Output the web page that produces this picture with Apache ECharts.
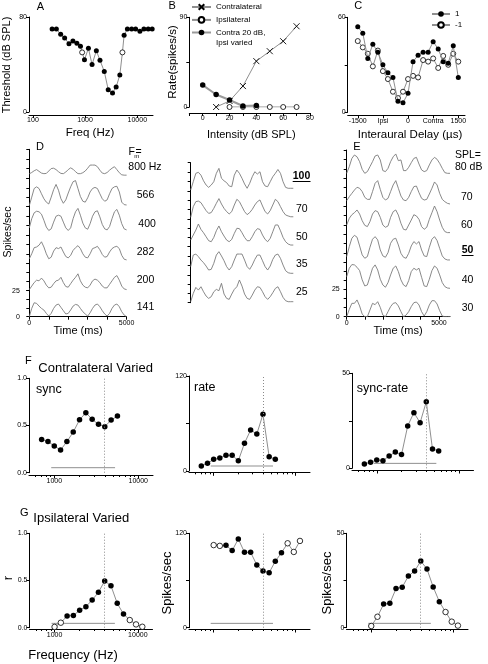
<!DOCTYPE html>
<html><head><meta charset="utf-8">
<script src="https://cdn.jsdelivr.net/npm/echarts@6/dist/echarts.min.js"></script>
<style>html,body{margin:0;padding:0;background:#fff}#c{width:488px;height:664px}</style>
</head><body><div id="c"></div>
<script>
// ---------------- DATA ----------------
// Panel A: threshold tuning curve
const aFreq   = [233,281,340,405,490,584,695,815,877,971,1157,1358,1641,1927,2328,2772,3350,3933,4623,5190,5588,6460,7800,9290,11220,13390,16180,19280];
const aThresh = [70,70,65.4,62.3,57.5,59.8,58,55.3,50.2,44,53.6,40,51.6,43.5,34.2,18.8,16,21,31.2,50.2,64.6,70,70,70,68,70,70,70];
const aOpen   = [0,0,0,0,0,0,0,0,1,0,0,0,0,0,0,0,0,0,0,1,0,0,0,0,0,0,0,0];
const aFreqTicks = [100,1000,10000];
// Panel B: rate vs intensity
const bInt    = [0,10,20,30,40,50,60,70];
const bContra = [null,0,6,21,46,56,66,81];
const bIpsi   = [null,null,0,0,0,0,0,0];
const bBoth   = [22,12.5,7,1,1.5,null,null,null];
// Panel C: interaural delay
const cDelay = [-1500,-1350,-1200,-1050,-900,-750,-600,-450,-300,-150,0,150,300,450,600,750,900,1050,1200,1350,1500];
const cPos   = [54,50,34,43,38,30,25,22,7,6,12,32,36,38,38,44.6,40,32,31,42,22];
const cNeg   = [45,41,37,29,39,26,21,13,9,13,21,23,22,33,32,34,28,35.6,30,37,32];
// Panels D / middle / E: PSTH traces (spikes/sec)
const tD = [0,125,250,375,500,625,750,875,1000,1125,1250,1375,1500,1625,1750,1875,2000,2125,2250,2375,2500,2625,2750,2875,3000,3125,3250,3375,3500,3625,3750,3875,4000,4125,4250,4375,4500,4625,4750,4875,5000];
const tE = [0,140,280,420,560,700,840,980,1120,1260,1400,1540,1680,1820,1960,2100,2240,2380,2520,2660,2800,2940,3080,3220,3360,3500,3640,3780,3920,4060,4200,4340,4480,4620,4760,4900,5040,5180,5320,5460,5600];
const d800 = [3.9,5,6.5,7.5,6,4.5,4,4.2,6.3,8.4,8.7,7.5,5.7,4.2,4,5.4,7.5,9,7.8,5.7,4,4,4.8,6.3,8.7,11.4,11.4,11.4,10,7,4.5,4,5,7,8.7,10,7.5,4.8,3,2.7,2.7];
const d566 = [1,8.4,16,17.5,16,11.4,7,4,2.4,8.4,15,19.6,14.5,7,3,6,12,17.5,22,23,16,9,4.8,4,7.8,13,16,17,16,11.4,7,4.8,6,11.4,16,17.5,18,13,4,1.8,1.5];
const d400 = [6.3,14.4,19.6,21,20.5,18.4,13,7,4,5.4,11.4,16.6,17.5,16.6,11.4,6.3,4,6.3,14.4,20.5,23.5,17.5,10.5,6.3,5.1,10,16.6,20.5,21.4,16,9.3,5.4,4.5,7.5,14.4,20.5,22.6,17.5,10,5.4,4.5];
const d282 = [4,8.4,13.8,14.4,16,19,14.4,8.4,4,5.4,10.8,13.8,13,14.4,10,6,4.8,7,11.4,13.8,15.6,13,8.4,5.4,4.8,8.4,13,13.8,15,12,7.8,5.4,6,10,13,14.4,15,13,7,3.6,3];
const d200 = [1,4.2,7.4,9.6,9,11.5,9,5.1,2.6,3.2,6.4,9,9.6,12.2,7.4,3.8,3.2,6.4,9.6,12.2,15.4,9,5.1,3.2,2.6,5.1,9,10.6,9.6,7.4,4.2,2.6,2.6,5.8,9,12.2,13.8,9.6,4.2,1.6,1];
const d141 = [0,8,13.4,12.8,10.2,8,6.4,3.2,0.6,3.2,8,11.2,12.2,9,5.8,2.6,3.2,6.4,10.2,11.8,11.2,8,4.8,2.6,0.6,3.8,8,11.2,12.2,9.6,5.8,2.6,0.6,3.2,8,11.2,12.2,9.6,4.8,1.6,0];
const m100 = [0.9,8.2,15.6,16.5,14,9,5.3,3.2,5.3,8.2,15.6,20,11.2,9,7.4,4.4,3.8,14,18.5,15.6,11.2,6.2,2.4,6.8,12.6,17,15,17,8.2,4.4,3.8,8.2,12.6,15.6,19,15.6,8.2,3.2,2.4,2.4,2.4];
const m70  = [1.5,11,15.5,16,14.6,11,7.5,5,5.7,9.5,14,18.2,13.4,9.5,6.6,4.5,6.6,12.5,17.6,15.5,11,6.6,3.9,5.7,8.6,12.5,15.5,17,11.6,6.6,4.5,7.5,12.5,17.6,15.5,11,6.6,3.6,2.7,2,2];
const m50  = [6,10.5,15,20.5,15.6,12.6,9,5.4,4.5,8.4,14.4,18.7,13.5,9.6,6,4.5,6.6,12,16.6,16.3,12.6,8.4,5.4,5.4,9,13.5,16.3,15.6,10.5,6.6,4.5,7.5,13.5,19.6,19.6,14.4,8.4,4.5,2.4,1.5,1.5];
const m35  = [7.4,17.6,18.5,16.2,13.2,10.9,7.9,4.4,5,10.3,17.6,20.6,16.8,12.6,7.4,4.4,7.4,13.2,18.5,18.5,18.5,13.2,7.4,5,8.8,13.8,17.6,17.6,12.6,7.4,4.4,7.9,13.8,17.6,18.5,14.7,8.8,3.8,2,1.5,1.5];
const m25  = [0.9,8.4,13.8,11.4,14.4,9.9,6,3.9,5.4,9.9,12,10.8,17.5,7.8,3.9,3,7.8,12,14.4,20.5,15,7.8,3.9,3,6.9,11.4,14.4,13.8,9.9,5.4,3,5.4,9,12.9,14.4,9.9,4.8,1.8,0.9,0.9,0.9];
const e80  = [4.4,10.3,17.6,20.6,19,14.7,7.9,4.4,5.9,10.3,14.7,19.7,20.6,16.2,6.8,5.9,8.8,14.7,19,21.5,15.6,16.2,6.8,6.8,9.7,13.8,17.6,18.5,12.6,7.4,5.9,6.8,11.8,16.2,18.5,16.8,13.2,8.8,5,4.4,4.4];
const e70  = [4.8,8.4,11.4,14.4,16.9,16,13,7.8,6,6,13,20.5,22.9,15,7.8,5.4,6.9,13,19,22.9,16,9,5.4,4.8,7.8,13,17.5,18,12,6.9,5.4,6,10.8,16,21.7,19,11.4,6,3.9,2.4,1.8];
const e60  = [8.2,14.1,17.3,19.1,21.5,17.9,12,7.9,6.8,11.2,17.9,20.9,20,15,8.2,6.2,7.4,15,20,21.5,17,9.7,4.4,3.8,8.2,12.6,17.3,16.2,13.2,6.8,4.4,6.2,13.2,19.1,25,20,12.6,6.2,2.4,1.5,1.5];
const e50  = [5.1,14,21.5,24.1,22.4,14.6,6.6,3.6,5.1,13.4,20.6,22.9,20,11,5.7,4.5,8.6,17,20.6,21.5,15.5,8,4.5,3.6,8,14.6,18.5,16.4,18.5,11,5.7,5.1,13.4,20.6,22.9,19.4,12.5,5.7,3,2.1,2.1];
const e40  = [11.7,19.5,22.9,22.6,20.4,17.3,8.7,3.1,4,11.7,19.5,22.6,17.9,9.3,4,1.9,6.2,13.3,19.5,21.6,16.4,8.7,4,2.5,8,16.4,19.5,17.9,19.5,11.1,3.1,2.5,9.3,17.3,21.6,19.5,13.3,6.2,2.5,1.2,0.9];
const e30  = [0,6.7,12.2,12.2,15.3,9.8,2.4,0,0,6.1,12.2,11,13.7,8.5,1.5,0,4.6,9.2,12.2,12.8,9.8,4.6,0,1.5,4.6,9.2,12.8,13.4,10.7,4.6,0.6,4.6,10.7,14.6,14.6,11.6,5.5,0.6,0,0,0];
// Panels F / G: frequency sweeps
const fFreq     = [707,841,1000,1189,1414,1682,2000,2378,2828,3364,4000,4757,5657];
const fSync     = [0.353,0.33,0.283,0.24,0.33,0.43,0.56,0.636,0.565,0.512,0.488,0.558,0.6];
const fRate     = [6.3,9.7,14.7,16.4,19.8,19.8,13,35,51.8,46.7,71.6,18.1,14.7];
const fSyncRate = [2.3,3.2,4.4,4.0,6.5,8.6,7.2,22.3,29.3,24,35,10.2,9.1];
const gFreq     = [1000,1189,1414,1682,2000,2378,2828,3364,4000,4757,5657,6727,8000,9514,11314];
const gR        = [0.008,0.053,0.124,0.13,0.184,0.223,0.293,0.375,0.495,0.445,0.258,0.145,0.081,0.035,0.01];
const gRate     = [105,104,104.7,98,112.8,95.8,95.8,79.7,72,70,84.4,95.4,107.3,96.3,110.3];
const gSyncRate = [0.9,5.8,12.5,12.9,20.7,21.4,27.4,30,35.3,31.1,21.6,13.8,8.3,3.2,1.1];
const gOpen     = [1,1,0,0,0,0,0,0,0,0,0,0,1,1,1];
const charFreq  = 4000;              // dotted vertical line
const critRange = [920, 5300];       // horizontal criterion line extent (Hz)
const critF = [0.053, 6.3, 2.6];     // sync, rate, sync-rate
const critG = [0.046, 5.5, 2.3];
const fMajor = [1000,10000];
const fMinor = [600,700,800,900,2000,3000,4000,5000,6000,7000,8000,9000];

// ---------------- BUILD ----------------
const FONT = "'Liberation Sans', Arial, Helvetica, sans-serif";
const LINE_GRAY = '#8f8f8f', TRACE_GRAY = '#7c7c7c';
const L = Math.log10;
const OPEN = {color:'#fff', borderColor:'#000', borderWidth:0.8};
const FILL = {color:'#000', borderColor:'#000', borderWidth:0};
const grids=[], xAxes=[], yAxes=[], series=[], graphics=[];
const plain = v => String(v);

function grid(l,t,w,h){ grids.push({left:l, top:t, width:w, height:h, show:false}); return grids.length-1; }
function valAxis(dim, gi, o){
  const ax = {
    gridIndex: gi, type:'value', min:o.min, max:o.max,
    position: dim==='x' ? 'bottom' : 'left',
    offset: o.offset||0, show: o.show!==false,
    axisLine:{show:o.line!==false, onZero:false, lineStyle:{color:'#000', width:1}},
    axisTick:{show:!!o.ticks, length:o.tickLen||3, inside:false, lineStyle:{color:'#000', width:1}},
    axisLabel:{show:!!o.labels, fontSize:o.fs||7, fontFamily:FONT, color:'#000', margin:(o.margin!==undefined?o.margin:2),
      formatter: o.fmt || plain},
    splitLine:{show:false}, minorTick:{show:false}, splitArea:{show:false}
  };
  if (o.ticks) ax.axisTick.customValues = o.ticks;
  if (o.labels) ax.axisLabel.customValues = o.labels;
  const arr = dim==='x' ? xAxes : yAxes;
  arr.push(ax); return arr.length-1;
}
function pt(x,y,open){ return open ? {value:[x,y], itemStyle:OPEN} : [x,y]; }
function pairs(xs, ys){ const r=[]; xs.forEach((x,i)=>{ if(ys[i]!==null && ys[i]!==undefined) r.push([x,ys[i]]); }); return r; }
const hzFmt = v => String(Math.round(Math.pow(10,v)));

// ---- Panel A
{
  const gi = grid(29, 17, 124, 95);
  const xi = valAxis('x', gi, {min:L(84), max:L(20000), offset:3, ticks:aFreqTicks.map(L), labels:aFreqTicks.map(L), fmt:hzFmt});
  const yi = valAxis('y', gi, {min:0, max:80, ticks:[0,80], labels:[0,80]});
  series.push({type:'line', xAxisIndex:xi, yAxisIndex:yi, symbol:'circle', symbolSize:5,
    data: aFreq.map((f,i)=>pt(L(f), aThresh[i], aOpen[i])),
    lineStyle:{color:LINE_GRAY, width:1}, itemStyle:FILL, silent:true});
}
// ---- Panel B
{
  const gi = grid(189.3, 17.3, 120.7, 89.7);
  const xi = valAxis('x', gi, {min:-10, max:80, offset:6, ticks:[-10,0,10,20,30,40,50,60,70,80], labels:[0,20,40,60,80]});
  const yi = valAxis('y', gi, {min:0, max:90, ticks:[0,45,90], labels:[0,90]});
  series.push({type:'line', name:'Contralateral', xAxisIndex:xi, yAxisIndex:yi, data:pairs(bInt,bContra),
    symbol:'path://M0,0L10,10M10,0L0,10', symbolSize:6, lineStyle:{color:LINE_GRAY, width:1},
    itemStyle:{color:'none', borderColor:'#000', borderWidth:0.9}, silent:true});
  series.push({type:'line', name:'Ipsilateral', xAxisIndex:xi, yAxisIndex:yi, data:pairs(bInt,bIpsi),
    symbol:'circle', symbolSize:5, lineStyle:{color:LINE_GRAY, width:1}, itemStyle:OPEN, silent:true});
  series.push({type:'line', name:'Contra 20 dB, Ipsi varied', xAxisIndex:xi, yAxisIndex:yi, data:pairs(bInt,bBoth),
    symbol:'circle', symbolSize:5.5, lineStyle:{color:'#9a9a9a', width:2}, itemStyle:FILL, silent:true, z:4});
}
// ---- Panel C
{
  const gi = grid(347.7, 17.3, 117.3, 95);
  const xi = valAxis('x', gi, {min:-1800, max:1700, offset:3, ticks:[-1500,-750,0,750,1500], labels:[-1500,-750,0,750,1500],
    fmt: v => v===-750 ? 'Ipsi' : (v===750 ? 'Contra' : String(v))});
  const yi = valAxis('y', gi, {min:0, max:60, ticks:[0,30,60], labels:[0,60]});
  series.push({type:'line', name:'1', xAxisIndex:xi, yAxisIndex:yi, data:pairs(cDelay,cPos),
    symbol:'circle', symbolSize:5, lineStyle:{color:LINE_GRAY, width:1}, itemStyle:FILL, silent:true, z:4});
  series.push({type:'line', name:'-1', xAxisIndex:xi, yAxisIndex:yi, data:pairs(cDelay,cNeg),
    symbol:'circle', symbolSize:5, lineStyle:{color:LINE_GRAY, width:1}, itemStyle:OPEN, silent:true, z:3});
}
// ---- Trace panels
function tracePanel(left, width, tops, bottom, tArr, tMax, traces, bottomAxis){
  traces.forEach((tr, k) => {
    const top = tops[k], h = (k < tops.length-1 ? tops[k+1] : bottom) - top;
    const gi = grid(left, top, width, h);
    const last = (k === traces.length-1) && bottomAxis;
    const xi = last
      ? valAxis('x', gi, {min:0, max:tMax, ticks:[0,1000,2000,3000,4000,5000], labels:[0,5000], margin:3})
      : valAxis('x', gi, {min:0, max:tMax, show:false});
    const yi = last
      ? valAxis('y', gi, {min:0, max:25, ticks:[0,25/3,50/3,25], labels:[0,25], margin:bottomAxis.ym})
      : valAxis('y', gi, {min:0, max:25, ticks:[0,25/3,50/3,25]});
    series.push({type:'line', xAxisIndex:xi, yAxisIndex:yi, data:pairs(tArr, tr), symbol:'none',
      lineStyle:{color:TRACE_GRAY, width:0.9}, silent:true});
  });
}
tracePanel(29.3, 97.3, [149.3,178.3,206.7,235,263.3,290.7], 316.7, tD, 5000, [d800,d566,d400,d282,d200,d141], {ym:9.5});
tracePanel(190.7, 102.6, [162.7,191,219,246.7,275], 302.7, tD, 5000, [m100,m70,m50,m35,m25], null);
tracePanel(346.7, 103.3, [150,178.3,206,234.3,262.3,289.3], 316.7, tE, 5600, [e80,e70,e60,e50,e40,e30], {ym:7});

// ---- Frequency panels (F, G)
function freqPanel(p){
  const FMIN=500, FMAX=15000;
  const gi = grid(p.left, p.top, p.width, p.height);
  const xi = valAxis('x', gi, {min:L(FMIN), max:L(FMAX), offset:p.offset, ticks:fMajor.map(L), tickLen:3.5,
    labels: p.xLabels ? fMajor.map(L) : null, fmt:hzFmt, margin:3});
  valAxis('x', gi, {min:L(FMIN), max:L(FMAX), offset:p.offset, line:false, ticks:fMinor.map(L), tickLen:2});
  const yi = valAxis('y', gi, {min:0, max:p.yMax, ticks:p.yTicks, labels:p.yLabels, fmt:p.yFmt});
  series.push({type:'line', xAxisIndex:xi, yAxisIndex:yi, data:critRange.map(f=>[L(f), p.level]), symbol:'none',
    lineStyle:{color:LINE_GRAY, width:1}, silent:true, z:2});
  series.push({type:'line', xAxisIndex:xi, yAxisIndex:yi, symbol:'circle', symbolSize:5.5,
    data: p.freqs.map((f,i)=>pt(L(f), p.vals[i], p.open && p.open[i])),
    lineStyle:{color:LINE_GRAY, width:1}, itemStyle:FILL, silent:true, z:4,
    markLine:{silent:true, symbol:['none','none'], label:{show:false}, animation:false,
      lineStyle:{type:[1,2], color:'#8a8a8a', width:1}, data:[{xAxis:L(charFreq)}]}});
}
const fmt1 = v => v.toFixed(1);
freqPanel({left:29, top:378.3, width:124, height:94.4, offset:2.3, xLabels:true, yMax:1, yTicks:[0,0.5,1], yLabels:[0,0.5,1], yFmt:fmt1, freqs:fFreq, vals:fSync, level:critF[0]});
freqPanel({left:189, top:376, width:121, height:95, offset:1.3, xLabels:false, yMax:120, yTicks:[0,60,120], yLabels:[0,120], freqs:fFreq, vals:fRate, level:critF[1]});
freqPanel({left:352, top:373.3, width:121.5, height:95, offset:1.7, xLabels:false, yMax:50, yTicks:[0,25,50], yLabels:[0,50], freqs:fFreq, vals:fSyncRate, level:critF[2]});
freqPanel({left:29.5, top:533.3, width:123, height:94.4, offset:1.3, xLabels:true, yMax:1, yTicks:[0,0.5,1], yLabels:[0,0.5,1], yFmt:fmt1, freqs:gFreq, vals:gR, open:gOpen, level:critG[0]});
freqPanel({left:189, top:533.3, width:121, height:94.4, offset:1.3, xLabels:false, yMax:120, yTicks:[0,60,120], yLabels:[0,120], freqs:gFreq, vals:gRate, open:gOpen, level:critG[1]});
freqPanel({left:346.5, top:533.3, width:121.5, height:94.4, offset:1.3, xLabels:false, yMax:50, yTicks:[0,25,50], yLabels:[0,50], freqs:gFreq, vals:gSyncRate, open:gOpen, level:critG[2]});

// ---- Texts
function T(text, x, y, o){
  o = o||{};
  graphics.push({type:'text', x:x, y:y, rotation:o.rot?Math.PI/2:0, silent:true, z:100,
    style:{text:text, fill:'#000', fontSize:o.fs||10.5, fontFamily:FONT, fontWeight:o.bold?'bold':'normal',
      align:o.align||'left', verticalAlign:'middle'}});
}
function U(x1,x2,y){ graphics.push({type:'line', silent:true, z:100, shape:{x1:x1,y1:y,x2:x2,y2:y}, style:{stroke:'#000', lineWidth:1}}); }
// panel letters
T('A', 36.7, 6.7, {fs:11}); T('B', 168.5, 6.3, {fs:11}); T('C', 354.3, 6.3, {fs:11});
T('D', 36, 147, {fs:11}); T('E', 353.3, 147, {fs:11});
T('F', 25, 360.7, {fs:11}); T('Contralateral Varied', 38.3, 368.5, {fs:13});
T('G', 20, 512.8, {fs:11}); T('Ipsilateral Varied', 33.3, 518.7, {fs:13});
// axis titles
T('Threshold (dB SPL)', 7.3, 65, {rot:1, align:'center', fs:11});
T('Freq (Hz)', 90, 132.7, {align:'center', fs:11.5});
T('Rate(spikes/s)', 173.3, 62, {rot:1, align:'center', fs:11.5});
T('Intensity (dB SPL)', 251.3, 134.5, {align:'center', fs:11});
T('Interaural Delay (\u00b5s)', 410, 134.5, {align:'center', fs:11.5});
T('Time (ms)', 78, 330.5, {align:'center', fs:11});
T('Time (ms)', 398, 330.5, {align:'center', fs:11});
T('Spikes/sec', 8, 232, {rot:1, align:'center', fs:10.5});
T('r', 8, 578, {rot:1, align:'center', fs:13});
T('Spikes/sec', 167, 583, {rot:1, align:'center', fs:13});
T('Spikes/sec', 327.5, 583, {rot:1, align:'center', fs:13});
T('Frequency (Hz)', 73, 655, {align:'center', fs:13});
T('sync', 36, 389.5, {fs:12.5}); T('rate', 194, 387.5, {fs:12.5}); T('sync-rate', 356.7, 389, {fs:12.5});
T('Ipsi varied', 216, 42.7, {fs:8});
// trace labels D
T('F', 128.5, 151.7, {fs:10.5}); T('m', 134.2, 156.5, {fs:6}); T('=', 135.5, 152, {fs:10.5});
T('800 Hz', 128.3, 167); T('566', 136.7, 195); T('400', 138.3, 223.7); T('282', 136.7, 251.7); T('200', 136.7, 279.7); T('141', 136.7, 307);
// middle
T('100', 292.7, 176.3, {bold:1}); U(292.7, 310.5, 181.5);
T('70', 296, 209); T('50', 296, 236.7); T('35', 296, 264.3); T('25', 296, 292);
// E
T('SPL=', 455, 155.5); T('80 dB', 455, 166.7); T('70', 461, 196.7); T('60', 461, 225);
T('50', 461.7, 250, {bold:1}); U(461.7, 473.5, 255.5);
T('40', 461.7, 280); T('30', 461.7, 308.3);

const chart = echarts.init(document.getElementById('c'), null, {renderer:'canvas', width:488, height:664});
chart.setOption({
  animation:false, backgroundColor:'#fff',
  grid:grids, xAxis:xAxes, yAxis:yAxes, series:series, graphic:graphics,
  legend:[
    {data:['Contralateral','Ipsilateral','Contra 20 dB, Ipsi varied'], left:191, top:1.7, orient:'vertical',
     itemWidth:19, itemHeight:7, itemGap:2.6, padding:0, selectedMode:false,
     formatter: n => n==='Contra 20 dB, Ipsi varied' ? 'Contra 20 dB,' : n,
     textStyle:{fontSize:8, fontFamily:FONT, color:'#000', lineHeight:10}},
    {data:['1','-1'], left:431, top:9, orient:'vertical', itemWidth:18, itemHeight:7, itemGap:1, padding:0, selectedMode:false,
     textStyle:{fontSize:8, fontFamily:FONT, color:'#000', lineHeight:10}}
  ]
});
</script></body></html>
